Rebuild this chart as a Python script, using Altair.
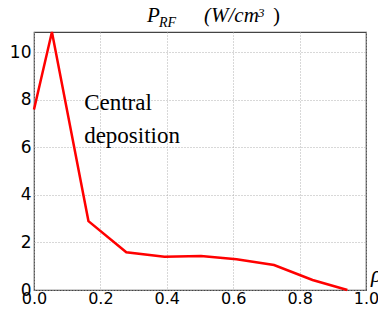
import altair as alt
import pandas as pd

rho = [0.0, 0.054, 0.164, 0.278, 0.393, 0.503, 0.61, 0.723, 0.839, 0.944]
p_rf = [7.6, 10.86, 2.9, 1.59, 1.40, 1.43, 1.29, 1.05, 0.42, 0.0]
x_ticks = [0.0, 0.2, 0.4, 0.6, 0.8, 1.0]
y_ticks = [0, 2, 4, 6, 8, 10]
note_lines = ["Central", "deposition"]
note_x = [0.151, 0.151]
note_y = [7.58, 6.2]

df = pd.DataFrame({"rho": rho, "p": p_rf})
notes = pd.DataFrame({"t": note_lines, "x": note_x, "y": note_y})

W, H = 332, 258
xs = alt.Scale(domain=[0, 1], nice=False)
ys = alt.Scale(domain=[0, 10.86], nice=False, zero=True)

line = alt.Chart(df).mark_line(color="#ff0000", strokeWidth=2.5).encode(
    x=alt.X("rho:Q", scale=xs, axis=alt.Axis(values=x_ticks, format=".1f", title=None,
                                             grid=True, ticks=False, domain=False,
                                             labelFontSize=16,
                                             labelBaseline="alphabetic", labelPadding=13,
                                             labelFlush=False)),
    y=alt.Y("p:Q", scale=ys, axis=alt.Axis(values=y_ticks, format="d", title=None,
                                           grid=True, ticks=False, domain=False,
                                           labelFontSize=17, labelPadding=3)),
)

note = alt.Chart(notes).mark_text(font="Liberation Serif", fontSize=23, align="left",
                                  baseline="alphabetic", color="black").encode(
    x=alt.X("x:Q", scale=xs), y=alt.Y("y:Q", scale=ys), text="t:N")

def txt(s, x, y, size, italic=True):
    return alt.Chart(pd.DataFrame({"t": [s]})).mark_text(
        font="Liberation Serif", fontSize=size, fontStyle="italic" if italic else "normal",
        align="left", baseline="alphabetic", color="black").encode(
        x=alt.value(x), y=alt.value(y), text="t:N")

title_parts = [
    txt("P", 113, -10, 21),
    txt("RF", 125, -5, 14),
    txt("(W/cm", 170, -10, 21),
    txt("3", 224, -15, 13),
    txt(")", 239, -10, 21, italic=False),
    txt("ρ", 337, 250, 23),
]

chart = alt.layer(line, note, *title_parts).properties(
    width=W, height=H,
    autosize=alt.AutoSizeParams(type="none"),
    padding={"left": 26, "top": 24, "right": 12, "bottom": 17},
).configure_view(stroke="#444444", strokeWidth=1.2).configure_axis(
    labelFont="DejaVu Sans", labelColor="black",
    gridColor="#b0b0b0", gridDash=[1, 2], gridWidth=1,
)

chart.save("out.html", embed_options={"renderer": "svg", "actions": False})
